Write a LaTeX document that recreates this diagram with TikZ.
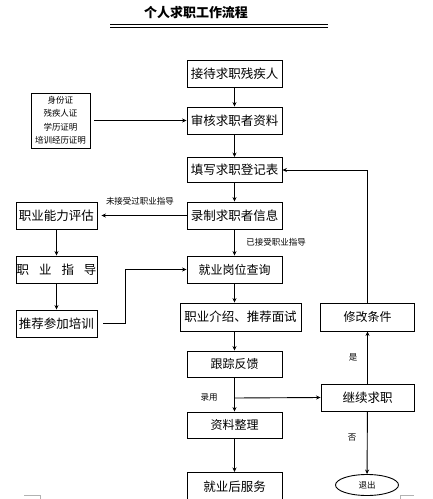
\documentclass[tikz,border=0pt]{standalone}
\usepackage{fontspec}
\setmainfont{Noto Sans CJK SC}
\newfontfamily\cjkb{Noto Sans CJK SC Bold}
\usetikzlibrary{arrows.meta,shapes.geometric}
\begin{document}
\begin{tikzpicture}[x=1pt,y=-1pt,
  box/.style={draw,line width=0.9pt,inner sep=0pt,minimum height=27pt,minimum width=95pt,font=\fontsize{12.5}{14}\selectfont},
  arr/.style={line width=0.9pt,-{Stealth[length=4.5pt,width=4pt]}},
  ln/.style={line width=0.9pt},
  small/.style={font=\fontsize{8.5}{10}\selectfont,inner sep=0pt}]
\useasboundingbox (0,0) rectangle (432,499);
% title
\node[font=\fontsize{13}{15}\selectfont\bfseries] (title) at (196,13) {个人求职工作流程};
\draw[line width=1.6pt] (110,24.3) -- (328,24.3);
\draw[line width=0.8pt] (110,27) -- (328,27);
% main column
\node[box] (n1) at (234.5,73.5) {接待求职残疾人};
\node[box] (n2) at (234.5,120.5) {审核求职者资料};
\node[box,minimum height=25pt] (n3) at (234.5,170) {填写求职登记表};
\node[box] (n4) at (234.5,215.5) {录制求职者信息};
\node[box,font=\fontsize{12}{14}\selectfont] (n5) at (234.5,269.5) {就业岗位查询};
\node[box,minimum width=121pt,minimum height=28pt] (n6) at (240.5,317) {职业介绍、推荐面试};
\node[box,minimum height=26pt,font=\fontsize{12}{14}\selectfont] (n7) at (234.5,364) {跟踪反馈};
\node[box,minimum height=26pt,font=\fontsize{12}{14}\selectfont] (n8) at (234.5,425) {资料整理};
\node[box,minimum height=30pt,text depth=0pt,anchor=north] (n9) at (234.5,472) {\raisebox{3pt}{就业后服务}};
% left column
\node[box,minimum width=81pt] (L1) at (56.5,215.5) {职业能力评估};
\node[box,minimum width=81pt] (L2) at (56.5,269.5) {职\hspace{10pt}业\hspace{10pt}指\hspace{10pt}导};
\node[box,minimum width=81pt] (L3) at (56.5,323.5) {推荐参加培训};
\node[draw,line width=0.9pt,minimum width=59pt,minimum height=55pt,inner sep=0pt,align=center,font=\fontsize{8.5}{13.5}\selectfont] (docs) at (60.5,120.5) {身份证\\残疾人证\\学历证明\\培训经历证明};
% right column
\node[box,minimum width=94pt,minimum height=28pt,font=\fontsize{12}{14}\selectfont] (R1) at (367.5,317) {修改条件};
\node[box,minimum width=93pt,font=\fontsize{12.5}{14}\selectfont] (R2) at (367.5,397.5) {继续求职};
\node[draw,ellipse,line width=0.9pt,minimum width=63pt,minimum height=21pt,inner sep=0pt,font=\fontsize{8.5}{10}\selectfont] (ex) at (367,485) {退出};
% connectors
\draw[arr] (n1) -- (n2);
\draw[arr,shorten <=4pt] (docs) -- (n2);
\draw[arr] (n2) -- (n3);
\draw[arr] (n3) -- (n4);
\draw[arr,shorten >=4pt] (n4) -- (L1);
\node[small] (lab1) at (140,201) {未接受过职业指导};
\draw[arr] (n4) -- (n5);
\node[small] (lab2) at (276,242) {已接受职业指导};
\draw[arr] (L1) -- (L2);
\draw[arr] (L2) -- (L3);
\coordinate (j1) at (125.5,323.5);
\draw[arr] ([xshift=6pt]L3.east) -- (j1) |- (n5.west);
\draw[arr] (n5) -- (n6.north -| n5);
\draw[arr] (n6.south -| n7) -- (n7);
\draw[arr] (n7) -- (n8);
\coordinate (br) at (234.5,398);
\draw[arr] (br) -- (R2.west);
\node[small] (lab3) at (209,398) {录用};
\draw[arr] (n8) -- (n9);
\draw[arr] (R2) -- (R1);
\node[small] (lab4) at (353,357) {是};
\draw[arr] (R2) -- (ex);
\node[small] (lab5) at (352,438) {否};
\draw[arr] (R1.north) |- (n3.east);
% corner marks
\draw[gray!60,line width=0.7pt] (24,495) -- (40,495) -- (40,500);
\draw[gray!60,line width=0.7pt] (414,495) -- (400,495) -- (400,500);
\end{tikzpicture}
\end{document}
